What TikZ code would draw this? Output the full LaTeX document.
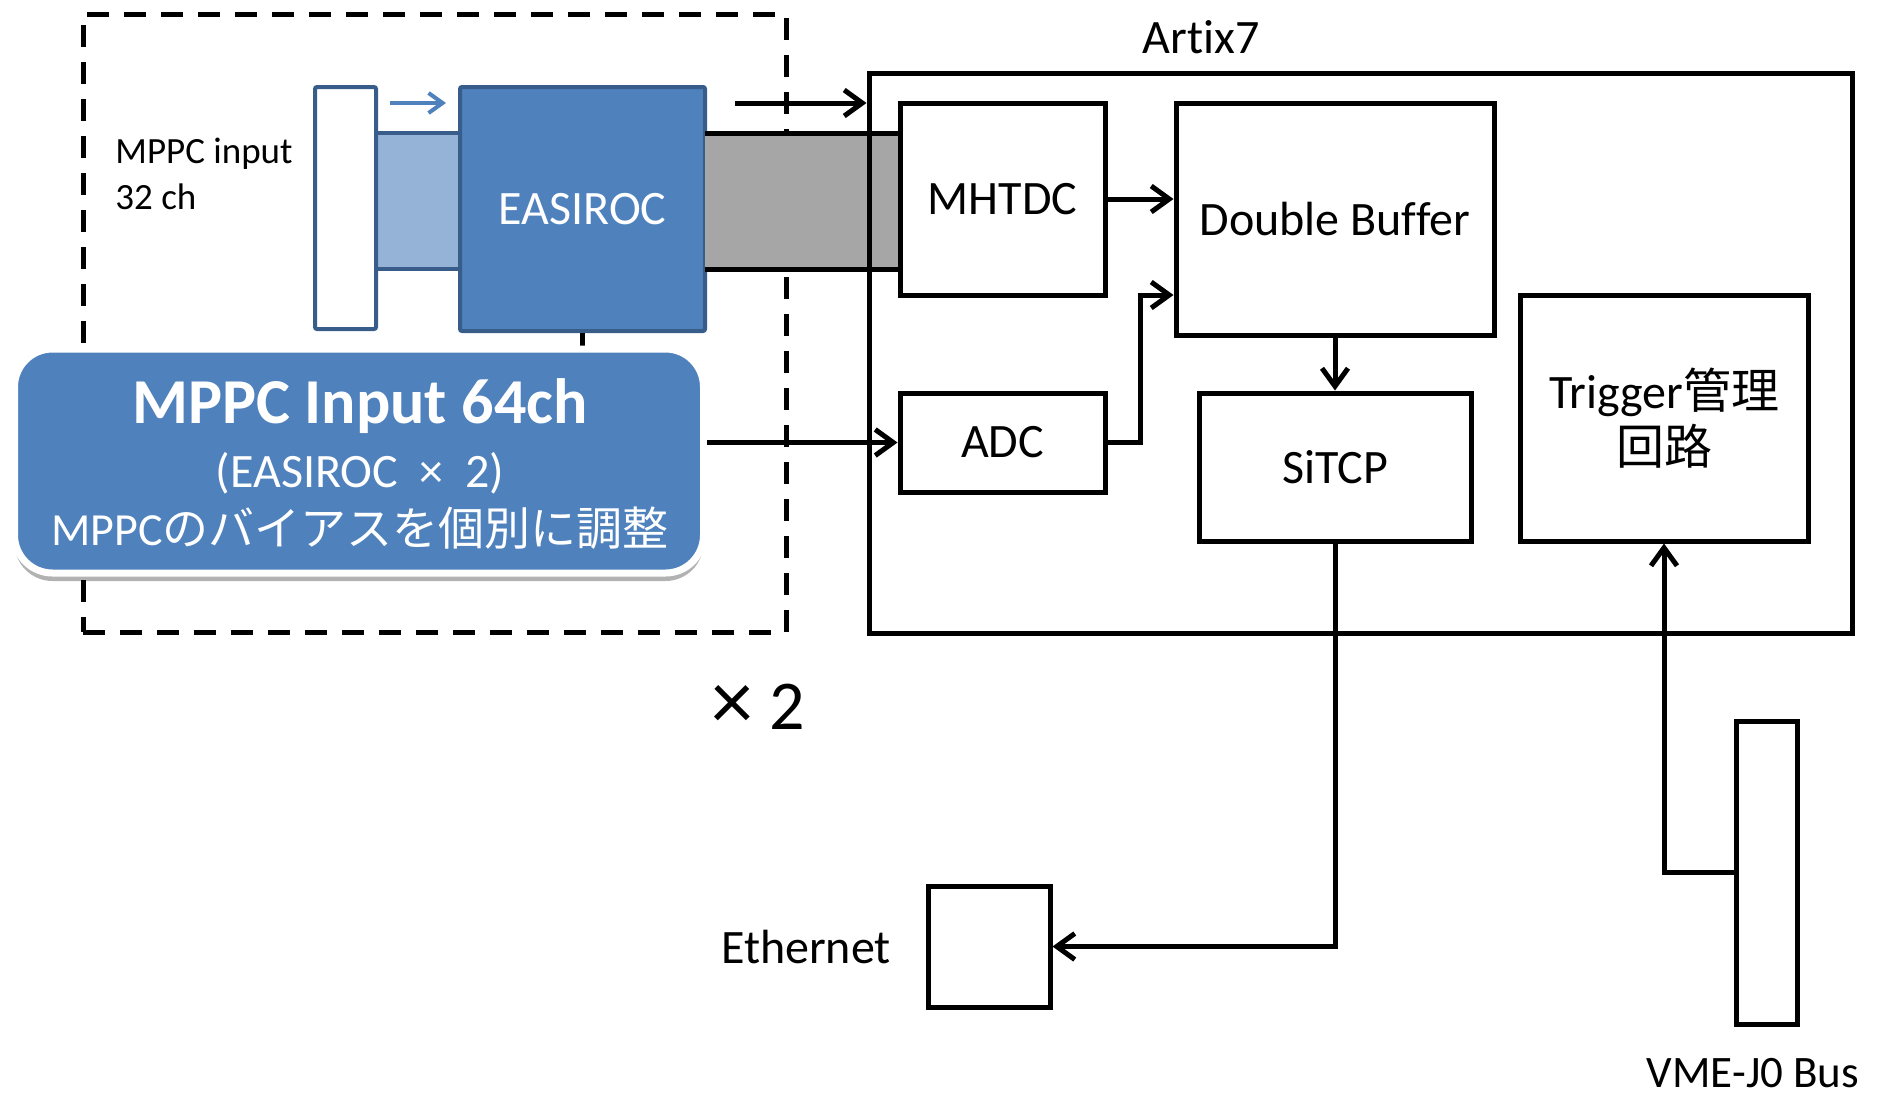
\documentclass[tikz,border=0pt]{standalone}
\usepackage{fontspec}
\setmainfont{Carlito}[Ligatures=NoCommon]
\newfontfamily\cjk{Noto Sans CJK JP}
\usetikzlibrary{arrows.meta,shadows}
\definecolor{ofblue}{HTML}{4F81BD}
\definecolor{ofdark}{HTML}{385D8A}
\definecolor{oflight}{HTML}{95B3D7}
\definecolor{ofgray}{HTML}{A6A6A6}
\tikzset{
  lw/.style={line width=2.5pt},
  blk/.style={lw, draw=black, fill=white, rectangle, inner sep=0pt, font=\fontsize{24}{29}\selectfont, align=center},
  arr/.style={lw, -{Straight Barb[length=9pt,width=13pt]}},
  bluearr/.style={line width=2pt, draw=ofblue, -{Straight Barb[length=7pt,width=10pt]}},
  lbl/.style={inner sep=0pt, font=\fontsize{24}{29}\selectfont, align=center},
}
\begin{document}
\begin{tikzpicture}[x=0.5pt,y=-0.5pt]
\useasboundingbox (0,0) rectangle (1880,1098);
% group (dashed) box
\node[draw, lw, dash pattern=on 11pt off 7.5pt, rectangle, inner sep=0pt,
  minimum width=351.5pt, minimum height=309pt] (grp) at (434.5,323) {};
% light band between input connector and EASIROC
\fill[oflight] (376,133) rectangle (460,269);
\draw[ofdark, line width=2pt] (376,133) -- (460,133) (376,269) -- (460,269);
% input connector
\node[draw=ofdark, line width=2pt, fill=white, rectangle, rounded corners=1pt, inner sep=0pt,
  minimum width=30.5pt, minimum height=121pt] (inp) at (345.5,208) {};
% EASIROC
\node[draw=ofdark, line width=2pt, fill=ofblue, rectangle, rounded corners=1pt, inner sep=0pt,
  minimum width=122.5pt, minimum height=122pt, text=white,
  font=\fontsize{24}{29}\selectfont] (easiroc) at (582.5,209) {EASIROC};
\coordinate (ba) at (390,103);
\draw[bluearr, shorten >=6pt] (ba) -- (ba -| easiroc.west);
% gray band to MHTDC
\fill[ofgray] (705,133) rectangle (900,269);
\draw[lw] (705,133) -- (900,133) (705,269) -- (900,269);
% Artix7 box
\node[draw, lw, rectangle, inner sep=0pt, minimum width=491.5pt, minimum height=280pt] (artix) at (1360.5,353) {};
\node[lbl] (artixlbl) at (1201,37) {Artix7};
% inner blocks
\node[blk, minimum width=102.5pt, minimum height=96pt] (mhtdc) at (1002.5,199) {MHTDC};
\node[blk, minimum width=159pt, minimum height=116pt] (db) at (1335,219) {Double Buffer};
\node[blk, minimum width=102.5pt, minimum height=49.5pt] (adc) at (1002.5,442.5) {ADC};
\node[blk, minimum width=136pt, minimum height=74pt] (sitcp) at (1335,467) {SiTCP};
\node[blk, minimum width=144pt, minimum height=123pt] (trig) at (1664,418)
  {Trigger{\cjk 管理}\\[-1pt]{\cjk 回路}};
% external blocks
\node[blk, minimum width=61pt, minimum height=60.5pt] (eth) at (989,946.5) {};
\node[lbl] (ethlbl) at (806,947) {Ethernet};
\node[blk, minimum width=30.5pt, minimum height=151.5pt] (vme) at (1766.5,872.5) {};
\node[lbl, font=\fontsize{22.5}{27}\selectfont] (vmelbl) at (1753,1073) {VME-J0 Bus};
% top arrow into Artix
\coordinate (ta) at (735,103);
\draw[arr] (ta) -- (ta -| artix.west);
% connectors inside Artix
\draw[arr] (mhtdc.east) -- (mhtdc.east -| db.west);
\coordinate (j) at (1140,295);
\draw[arr] (adc.east) -| (j) -- (j -| db.west);
\draw[arr] (db.south) -- (sitcp.north);
\draw[arr] (sitcp.south) |- (eth.east);
\draw[arr] (vme.west) -| (trig.south);
% MPPC input label
\node[inner sep=0pt, anchor=west, align=left, font=\fontsize{18.5}{23}\selectfont] (inlbl) at (115,174) {MPPC input\\32 ch};
% EASIROC to summary box line
\draw[lw] (easiroc.south) -- ++(0,30);
% summary rounded box
\node[draw=white, line width=3.5pt, fill=ofblue, rectangle, rounded corners=19pt, inner sep=0pt,
  minimum width=344.5pt, minimum height=112pt,
  drop shadow={shadow xshift=0pt, shadow yshift=-4pt, opacity=0.3, fill=black}] (mppc) at (359,461) {};
\node[inner sep=0pt, text=white, font=\bfseries\fontsize{32}{37}\selectfont] (t1) at (360,406) {MPPC Input 64ch};
\node[inner sep=0pt, text=white, font=\fontsize{24}{28}\selectfont] (t2) at (360,473) {(EASIROC\hspace{0.45em}×\hspace{0.45em}2)};
\node[inner sep=0pt, text=white, font=\fontsize{23}{27}\selectfont] (t3) at (360,528) {MPPC{\cjk のバイアスを個別に調整}};
\draw[arr] (adc.west -| mppc.east) -- (adc.west);
% x2
\node[inner sep=0pt, font=\fontsize{35}{40}\selectfont] (x2) at (758,707) {{\fontsize{42}{44}\selectfont ×} 2};
\end{tikzpicture}
\end{document}
